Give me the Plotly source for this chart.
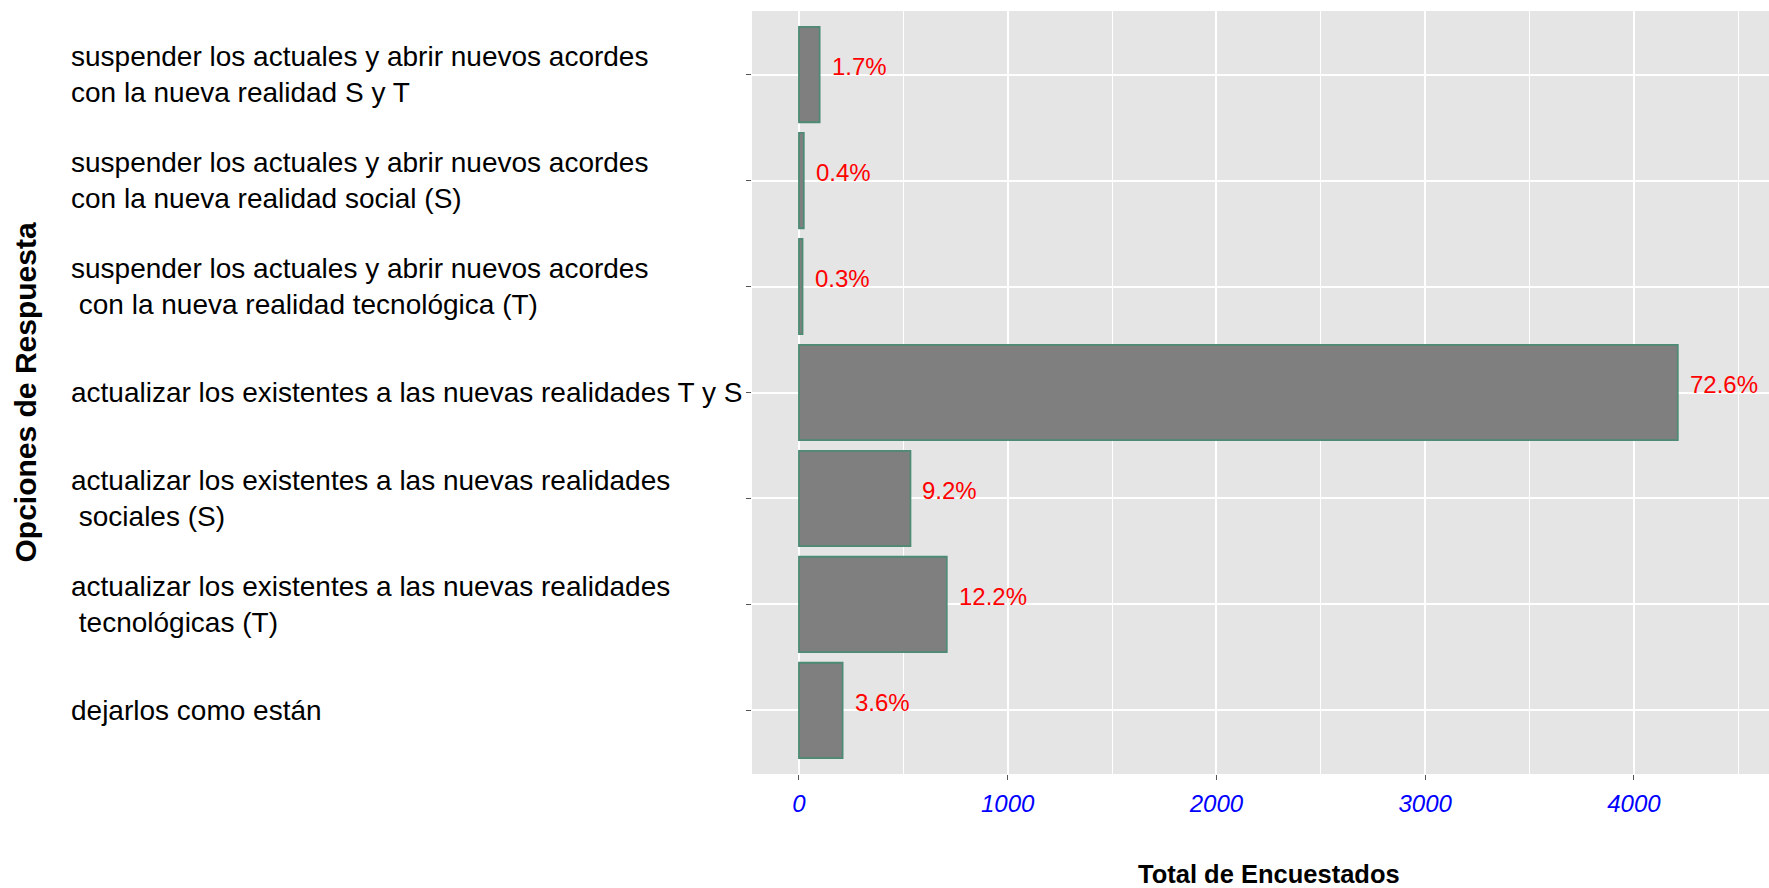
import plotly.graph_objects as go

# categories from bottom to top
categories = [
    "dejarlos como están",
    "actualizar los existentes a las nuevas realidades<br>\u00a0tecnológicas (T)",
    "actualizar los existentes a las nuevas realidades<br>\u00a0sociales (S)",
    "actualizar los existentes a las nuevas realidades T y S",
    "suspender los actuales y abrir nuevos acordes<br>\u00a0con la nueva realidad tecnológica (T)",
    "suspender los actuales y abrir nuevos acordes<br>con la nueva realidad social (S)",
    "suspender los actuales y abrir nuevos acordes<br>con la nueva realidad S y T",
]
counts = [209, 708, 534, 4210, 17, 23, 99]
pct_labels = ["3.6%", "12.2%", "9.2%", "72.6%", "0.3%", "0.4%", "1.7%"]
x_ticks = [0, 1000, 2000, 3000, 4000]

FONT = "Liberation Sans, Arial, sans-serif"

W, H = 1769, 888
ML, MR, MT, MB = 752, 0, 11, 888 - 774
PW = W - ML - MR
PH = H - MT - MB

fig = go.Figure()
fig.add_trace(go.Bar(
    y=list(range(len(categories))),
    x=counts,
    orientation="h",
    marker=dict(color="#7F7F7F", line=dict(color="#4E8B74", width=1.8)),
    width=0.9,
    hoverinfo="skip",
))

annotations = []
# percentage labels
for i, (c, t) in enumerate(zip(counts, pct_labels)):
    annotations.append(dict(
        x=c, y=i, xref="x", yref="y", text=t, showarrow=False,
        xanchor="left", yanchor="middle", xshift=10, yshift=8,
        font=dict(family=FONT, size=24, color="#FF0000"),
    ))
# category labels (left aligned)
for i, cat in enumerate(categories):
    annotations.append(dict(
        x=(69 - ML) / PW, y=i, xref="paper", yref="y", text=cat, showarrow=False,
        xanchor="left", yanchor="middle", align="left",
        font=dict(family=FONT, size=28, color="#000000"),
    ))
# y axis title
annotations.append(dict(
    x=(25 - ML) / PW, y=0.5, xref="paper", yref="paper",
    text="<b>Opciones de Respuesta</b>", showarrow=False, textangle=-90,
    xanchor="center", yanchor="middle",
    font=dict(family=FONT, size=30, color="#000000"),
))
# x axis title
annotations.append(dict(
    x=(1269 - ML) / PW, y=-(874 - 774) / PH, xref="paper", yref="paper",
    text="<b>Total de Encuestados</b>", showarrow=False,
    xanchor="center", yanchor="middle",
    font=dict(family=FONT, size=25.5, color="#000000"),
))

fig.update_layout(
    width=W, height=H,
    margin=dict(l=ML, r=MR, t=MT, b=MB, pad=0),
    paper_bgcolor="white",
    plot_bgcolor="#E5E5E5",
    showlegend=False,
    annotations=annotations,
    xaxis=dict(
        range=[-225, 4647],
        tickmode="array", tickvals=x_ticks, ticktext=[f"<i>{v}</i>" for v in x_ticks],
        ticks="outside", ticklen=5, tickcolor="#555555", tickwidth=1.2,
        tickfont=dict(family=FONT, size=24, color="#0000FF"),
        ticklabelstandoff=3,
        showgrid=True, gridcolor="white", gridwidth=1.6,
        minor=dict(dtick=500, tick0=0, showgrid=True, gridcolor="white", gridwidth=0.8, ticks=""),
        zeroline=False, showline=False,
    ),
    yaxis=dict(
        range=[-0.6, 6.6],
        tickmode="array", tickvals=list(range(len(categories))),
        showticklabels=False,
        ticks="outside", ticklen=5, tickcolor="#555555", tickwidth=1.2,
        showgrid=True, gridcolor="white", gridwidth=1.6,
        zeroline=False, showline=False,
    ),
)

fig.write_html(
    "out.html",
    config={"displayModeBar": False},
    post_script="document.body.style.margin='0';document.body.style.overflow='hidden';",
)
